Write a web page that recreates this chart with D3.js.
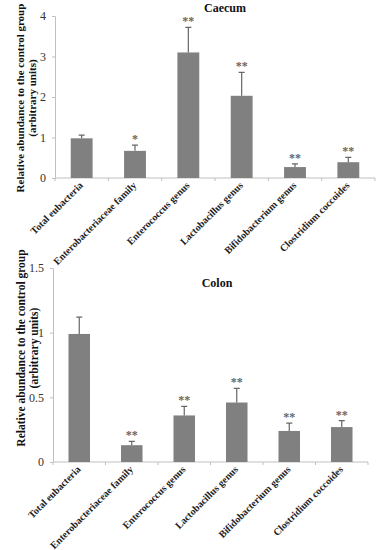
<!DOCTYPE html>
<html>
<head>
<meta charset="utf-8">
<script src="https://cdn.jsdelivr.net/npm/d3@7"></script>
<style>
  body { margin: 0; background: #fff; }
  svg text { font-family: "Liberation Serif", "Times New Roman", serif; }
</style>
</head>
<body>
<script>
const categories = ["Total eubacteria", "Enterobacteriaceae family", "Enterococcus genus",
                    "Lactobacillus genus", "Bifidobacterium genus", "Clostridium coccoides"];

const caecumMeans = [0.98, 0.67, 3.10, 2.03, 0.27, 0.39];
const caecumErrs  = [0.08, 0.14, 0.62, 0.58, 0.08, 0.12];
const caecumSig   = ["", "*", "**", "**", "**", "**"];
const caecumTicks = [0, 1, 2, 3, 4];

const colonMeans = [0.99, 0.13, 0.36, 0.46, 0.24, 0.27];
const colonErrs  = [0.13, 0.03, 0.07, 0.11, 0.06, 0.05];
const colonSig   = ["", "**", "**", "**", "**", "**"];
const colonTicks = [0, 0.5, 1, 1.5];

const w = 382;
const h = 550;
const barColor = "#808080";
const axisColor = "#c0c0c0";

const svg = d3.select("body")
              .append("svg")
              .attr("width", w)
              .attr("height", h);

function drawPanel(params){
  const x = d3.scaleBand()
              .domain(categories)
              .range([params.left, params.right])
              .paddingInner(0.59)
              .paddingOuter(0.295);

  const y = d3.scaleLinear()
              .domain([0, params.max])
              .range([params.bottom, params.top]);

  const g = svg.append("g");

  // y axis
  const yAxis = g.append("g")
      .attr("transform", "translate(" + params.left + ",0)")
      .call(d3.axisLeft(y).tickValues(params.ticks).tickSize(3).tickPadding(6)
              .tickFormat(d3.format("")));
  yAxis.select(".domain").attr("stroke", axisColor);
  yAxis.selectAll(".tick line").attr("stroke", axisColor);
  yAxis.selectAll(".tick text").attr("font-size", 12).attr("fill", "#333");

  // x axis: ticks between categories
  const xg = g.append("g");
  xg.append("line")
    .attr("x1", params.left).attr("x2", params.right)
    .attr("y1", params.bottom).attr("y2", params.bottom)
    .attr("stroke", axisColor);
  const bounds = categories.map(c => x(c) - x.step() * x.paddingInner() / 2)
                           .concat([params.right]);
  xg.selectAll(".sep")
    .data(bounds)
    .enter()
    .append("line")
    .attr("x1", d => d).attr("x2", d => d)
    .attr("y1", params.bottom).attr("y2", params.bottom + 3)
    .attr("stroke", axisColor);

  xg.selectAll(".cat")
    .data(categories)
    .enter()
    .append("text")
    .attr("transform", d => "translate(" + (x(d) + x.bandwidth() / 2 + 2) + "," + (params.bottom + 8) + ") rotate(-45)")
    .attr("text-anchor", "end")
    .attr("font-size", 10)
    .attr("font-weight", "bold")
    .attr("fill", "#222")
    .text(d => d);

  // bars
  g.selectAll(".bar")
    .data(params.means)
    .enter()
    .append("rect")
    .attr("x", (d, i) => x(categories[i]))
    .attr("width", x.bandwidth())
    .attr("y", d => y(d))
    .attr("height", d => params.bottom - y(d))
    .attr("fill", barColor);

  // error bars
  const errs = params.means.map((m, i) => ({cat: categories[i], m: m, e: params.errs[i], s: params.sig[i]}));
  g.selectAll(".err")
    .data(errs)
    .enter()
    .append("path")
    .attr("d", d => {
      const cx = x(d.cat) + x.bandwidth() / 2;
      return "M" + cx + "," + y(d.m) + "V" + y(d.m + d.e) + "M" + (cx - 3) + "," + y(d.m + d.e) + "H" + (cx + 3);
    })
    .attr("stroke", "#666")
    .attr("stroke-width", 1.2)
    .attr("fill", "none");

  g.selectAll(".sig")
    .data(errs)
    .enter()
    .append("text")
    .attr("x", d => x(d.cat) + x.bandwidth() / 2)
    .attr("y", d => y(d.m + d.e) - 2)
    .attr("text-anchor", "middle")
    .attr("font-size", 12)
    .attr("font-weight", "bold")
    .attr("fill", "#666")
    .text(d => d.s);

  // title
  g.append("text")
    .attr("x", params.titleX)
    .attr("y", params.titleY)
    .attr("text-anchor", "middle")
    .attr("font-size", 12)
    .attr("font-weight", "bold")
    .attr("fill", "#111")
    .text(params.title);

  // y label
  const lab = g.append("text")
    .attr("transform", "translate(" + params.labelX + "," + params.labelY + ") rotate(-90)")
    .attr("text-anchor", "middle")
    .attr("font-size", params.labelSize)
    .attr("font-weight", "bold")
    .attr("fill", "#111");
  lab.append("tspan").attr("x", 0).attr("dy", 0).text("Relative abundance to the control group");
  lab.append("tspan").attr("x", 0).attr("dy", params.labelSize + 1).text("(arbitrary units)");
}

drawPanel({
  means: caecumMeans, errs: caecumErrs, sig: caecumSig, ticks: caecumTicks, max: 4,
  left: 55, right: 375, top: 16, bottom: 178,
  title: "Caecum", titleX: 225, titleY: 12,
  labelX: 24, labelY: 98, labelSize: 11
});

drawPanel({
  means: colonMeans, errs: colonErrs, sig: colonSig, ticks: colonTicks, max: 1.5,
  left: 53, right: 368, top: 268, bottom: 462,
  title: "Colon", titleX: 217, titleY: 287,
  labelX: 25, labelY: 348, labelSize: 11.5
});
</script>
</body>
</html>
